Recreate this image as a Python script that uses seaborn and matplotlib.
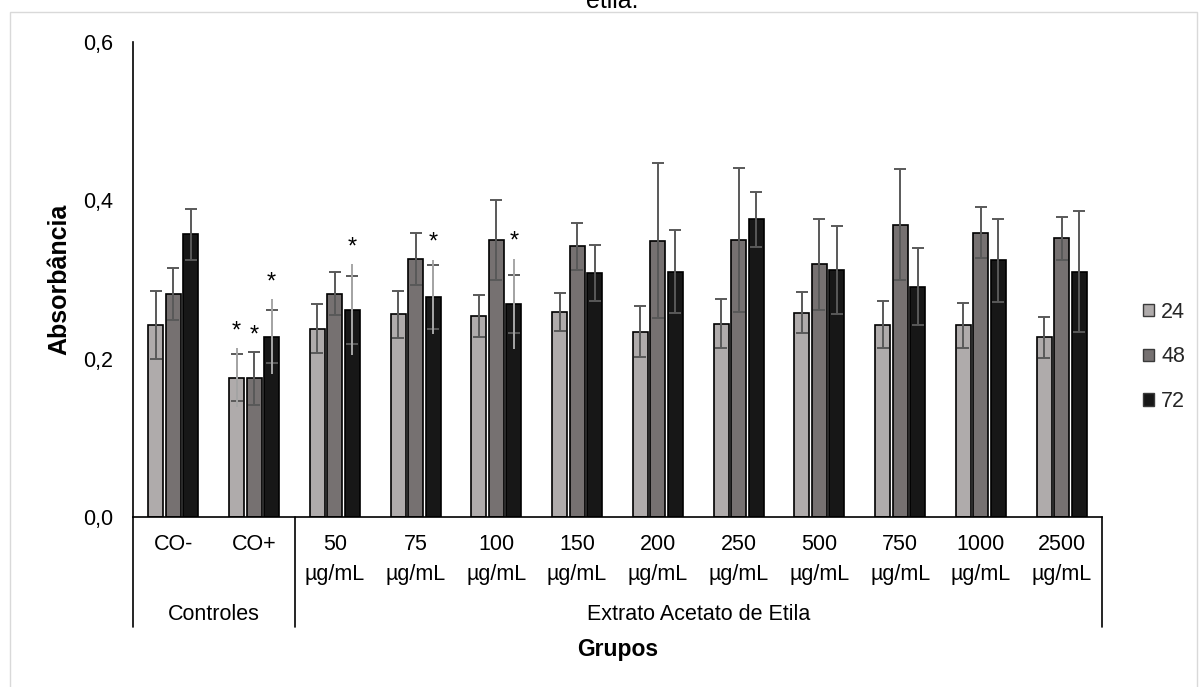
import numpy as np
import pandas as pd
import matplotlib
matplotlib.use("Agg")
import matplotlib.pyplot as plt
import matplotlib.transforms as mtransforms
from matplotlib.patches import Patch, Rectangle
import seaborn as sns

# ---------------- data ----------------
categories = ["CO-", "CO+", "50\nµg/mL", "75\nµg/mL", "100\nµg/mL", "150\nµg/mL",
              "200\nµg/mL", "250\nµg/mL", "500\nµg/mL", "750\nµg/mL",
              "1000\nµg/mL", "2500\nµg/mL"]
group_labels = ["Controles", "Extrato Acetato de Etila"]
group_sizes = [2, 10]
times = ["24", "48", "72"]

mean_24 = [0.243, 0.176, 0.238, 0.256, 0.254, 0.259, 0.234, 0.244, 0.258, 0.243, 0.242, 0.227]
mean_48 = [0.282, 0.175, 0.282, 0.326, 0.350, 0.342, 0.349, 0.350, 0.319, 0.369, 0.359, 0.352]
mean_72 = [0.357, 0.228, 0.262, 0.278, 0.269, 0.308, 0.310, 0.376, 0.312, 0.291, 0.324, 0.310]

err_24 = [0.043, 0.030, 0.031, 0.030, 0.026, 0.024, 0.032, 0.031, 0.026, 0.030, 0.028, 0.026]
err_48 = [0.033, 0.033, 0.027, 0.033, 0.050, 0.030, 0.098, 0.091, 0.057, 0.070, 0.032, 0.027]
err_72 = [0.032, 0.034, 0.043, 0.040, 0.037, 0.035, 0.052, 0.035, 0.056, 0.049, 0.053, 0.076]

# lighter, longer error line shown on some bars (0 = none)
ext_24 = [0, 0.037, 0, 0, 0, 0, 0, 0, 0, 0, 0, 0]
ext_48 = [0, 0, 0, 0, 0, 0, 0, 0, 0, 0, 0, 0]
ext_72 = [0, 0.047, 0.057, 0.047, 0.057, 0, 0, 0, 0, 0, 0, 0]

# significance marks (*)
star_24 = [0, 1, 0, 0, 0, 0, 0, 0, 0, 0, 0, 0]
star_48 = [0, 1, 0, 0, 0, 0, 0, 0, 0, 0, 0, 0]
star_72 = [0, 1, 1, 1, 1, 0, 0, 0, 0, 0, 0, 0]

y_ticks = [0.0, 0.2, 0.4, 0.6]
y_tick_labels = ["0,0", "0,2", "0,4", "0,6"]

colors = {"24": "#AFABAB", "48": "#767171", "72": "#171717"}

# ---------------- figure ----------------
sns.set_theme(style="white")
plt.rcParams["font.family"] = ["Liberation Sans", "DejaVu Sans"]

FS = 15.5
W, H = 1202, 687
fig = plt.figure(figsize=(W / 100, H / 100), dpi=100)
ax = fig.add_axes([133 / W, 1 - 517 / H, 969 / W, 475 / H])

df = pd.DataFrame({
    "grupo": categories * 3,
    "tempo": [t for t in times for _ in categories],
    "abs": mean_24 + mean_48 + mean_72,
})

sns.barplot(data=df, x="grupo", y="abs", hue="tempo", order=categories,
            hue_order=times, palette=colors, width=0.65, gap=0.15,
            edgecolor="black", linewidth=1.2, errorbar=None, legend=False,
            saturation=1, ax=ax)

means = [mean_24, mean_48, mean_72]
errs = [err_24, err_48, err_72]
exts = [ext_24, ext_48, ext_72]
stars = [star_24, star_48, star_72]

for cont, m, e, ex, st in zip(ax.containers, means, errs, exts, stars):
    xs = [p.get_x() + p.get_width() / 2 for p in cont]
    ax.errorbar(xs, m, yerr=e, fmt="none", ecolor="#595959", elinewidth=1.4,
                capsize=4, capthick=1.4, zorder=5)
    for x, mv, exv, sv, ev in zip(xs, m, ex, st, e):
        if exv > 0:
            ax.vlines(x, mv - exv, mv + exv, color="#A6A6A6", lw=1.4, zorder=6)
        if sv:
            top = mv + max(ev, exv)
            ax.annotate("*", (x, top), xytext=(0, 8), textcoords="offset points",
                        ha="center", va="baseline", fontsize=17, color="black",
                        zorder=7)

ax.set_xlim(-0.5, len(categories) - 0.5)
ax.set_ylim(0, 0.6)
ax.set_yticks(y_ticks)
ax.set_yticklabels(y_tick_labels)
ax.set_xticks(range(len(categories)))
ax.set_xticklabels(categories, linespacing=1.55)
ax.tick_params(axis="y", length=0, pad=14.4, labelsize=FS, labelcolor="black")
ax.tick_params(axis="x", length=0, pad=12.5, labelsize=FS, labelcolor="black")

for s in ["top", "right"]:
    ax.spines[s].set_visible(False)
for s in ["left", "bottom"]:
    ax.spines[s].set_color("black")
    ax.spines[s].set_linewidth(1.2)

# multi-level category axis
trans = mtransforms.blended_transform_factory(ax.transData, ax.transAxes)
line_bottom = -(627 - 517) / 475
bounds = [-0.5]
for n in group_sizes:
    bounds.append(bounds[-1] + n)
for b in bounds:
    ax.plot([b, b], [0, line_bottom], transform=trans, color="black", lw=1.2,
            clip_on=False)
for lab, a, b in zip(group_labels, bounds[:-1], bounds[1:]):
    ax.text((a + b) / 2, -(615 - 517) / 475, lab, transform=trans,
            ha="center", va="center", fontsize=FS, color="black")

ax.set_xlabel("Grupos", fontsize=16.5, fontweight="bold", color="black")
ax.xaxis.set_label_coords(0.5, -(638 - 517) / 475)
ax.set_ylabel("Absorbância", fontsize=18, fontweight="bold", color="black")
ax.yaxis.set_label_coords(-(133 - 71) / 969, 0.5)

handles = [Patch(facecolor=colors[t], edgecolor="#3a3a3a", linewidth=1.0) for t in times]
fig.legend(handles, times, loc="center left",
           bbox_to_anchor=(1143 / W, 1 - 357 / H), frameon=False, fontsize=FS,
           handlelength=0.5, handleheight=0.5, handletextpad=0.35,
           labelspacing=1.1, borderpad=0, borderaxespad=0)

# cut-off title and outer chart border
fig.text(612 / W, 1 - 7.5 / H, "etila.", ha="center", va="baseline", fontsize=18,
         color="black")
fig.patches.append(Rectangle((10 / W, -0.05), (1197 - 10) / W, 1.05 - 12 / H,
                             transform=fig.transFigure, fill=False,
                             edgecolor="#D9D9D9", linewidth=1.0))

fig.savefig("out.png", dpi=100)
